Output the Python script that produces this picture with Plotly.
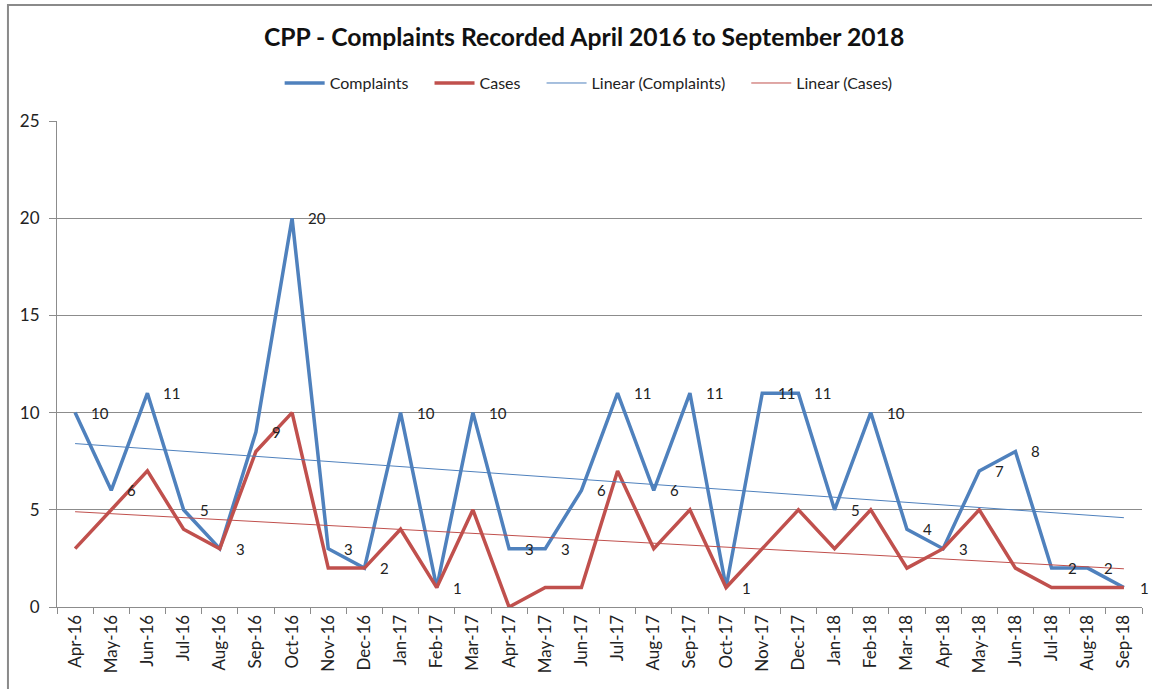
import numpy as np
import plotly.graph_objects as go

months = ["Apr-16", "May-16", "Jun-16", "Jul-16", "Aug-16", "Sep-16", "Oct-16", "Nov-16",
          "Dec-16", "Jan-17", "Feb-17", "Mar-17", "Apr-17", "May-17", "Jun-17", "Jul-17",
          "Aug-17", "Sep-17", "Oct-17", "Nov-17", "Dec-17", "Jan-18", "Feb-18", "Mar-18",
          "Apr-18", "May-18", "Jun-18", "Jul-18", "Aug-18", "Sep-18"]
complaints = [10, 6, 11, 5, 3, 9, 20, 3, 2, 10, 1, 10, 3, 3, 6, 11, 6, 11, 1, 11,
              11, 5, 10, 4, 3, 7, 8, 2, 2, 1]
cases = [3, 5, 7, 4, 3, 8, 10, 2, 2, 4, 1, 5, 0, 1, 1, 7, 3, 5, 1, 3,
         5, 3, 5, 2, 3, 5, 2, 1, 1, 1]

BLUE = "#4F81BD"
RED = "#C0504D"
GRID = "#8C8C8C"
FONT = "Lato, 'Liberation Sans', sans-serif"
PAD = "\u2003 "  # extra room after each legend entry


def linear_trend(values):
    idx = np.arange(1, len(values) + 1)
    slope, intercept = np.polyfit(idx, values, 1)
    return list(slope * idx + intercept)


fig = go.Figure()
fig.add_trace(go.Scatter(
    x=months, y=complaints, name="Complaints" + PAD, mode="lines",
    line=dict(color=BLUE, width=3.5),
))
fig.add_trace(go.Scatter(
    x=months, y=cases, name="Cases" + PAD, mode="lines",
    line=dict(color=RED, width=3.5),
))
fig.add_trace(go.Scatter(
    x=months, y=linear_trend(complaints), name="Linear (Complaints)" + PAD, mode="lines",
    line=dict(color=BLUE, width=1),
))
fig.add_trace(go.Scatter(
    x=months, y=linear_trend(cases), name="Linear (Cases)", mode="lines",
    line=dict(color=RED, width=1),
))

# value labels beside each complaints point
for m, v in zip(months, complaints):
    fig.add_annotation(x=m, y=v, text=str(v), showarrow=False,
                       xanchor="left", yanchor="middle", xshift=14,
                       font=dict(size=15, family=FONT, color="#222222"))

# outer chart frame
fig.add_shape(type="rect", xref="paper", yref="paper",
              x0=-0.0452, x1=1.05, y0=-0.25, y1=1.2387,
              line=dict(color="#8A8A8A", width=2), layer="below")

fig.update_layout(
    width=1152, height=689,
    margin=dict(l=57, r=10, t=121, b=82),
    paper_bgcolor="white", plot_bgcolor="white",
    font=dict(family=FONT, color="#222222"),
    title=dict(text="<b>CPP - Complaints Recorded April 2016 to September 2018</b>",
               x=0.507, xanchor="center", y=0.946, yanchor="middle",
               font=dict(size=24.7, family=FONT, color="#111111")),
    legend=dict(orientation="h", x=0.49, xanchor="center", y=1.078, yanchor="middle",
                font=dict(size=16, family=FONT), itemwidth=40, tracegroupgap=0,
                bgcolor="rgba(0,0,0,0)"),
    showlegend=True,
)
fig.update_xaxes(
    type="category", tickangle=-90, tickfont=dict(size=17, family=FONT),
    showline=True, linecolor=GRID, linewidth=1,
    ticks="outside", tickson="boundaries", ticklen=6, tickcolor=GRID,
    showgrid=False, range=[-0.5, len(months) - 0.5], fixedrange=True,
)
fig.update_yaxes(
    range=[0, 25], tickvals=[0, 5, 10, 15, 20, 25], tickfont=dict(size=17, family=FONT),
    showline=True, linecolor=GRID, linewidth=1,
    ticks="outside", ticklen=7, tickcolor=GRID, ticklabelstandoff=6,
    showgrid=True, gridcolor=GRID, gridwidth=1, zeroline=False,
)

fig.write_html("out.html")
